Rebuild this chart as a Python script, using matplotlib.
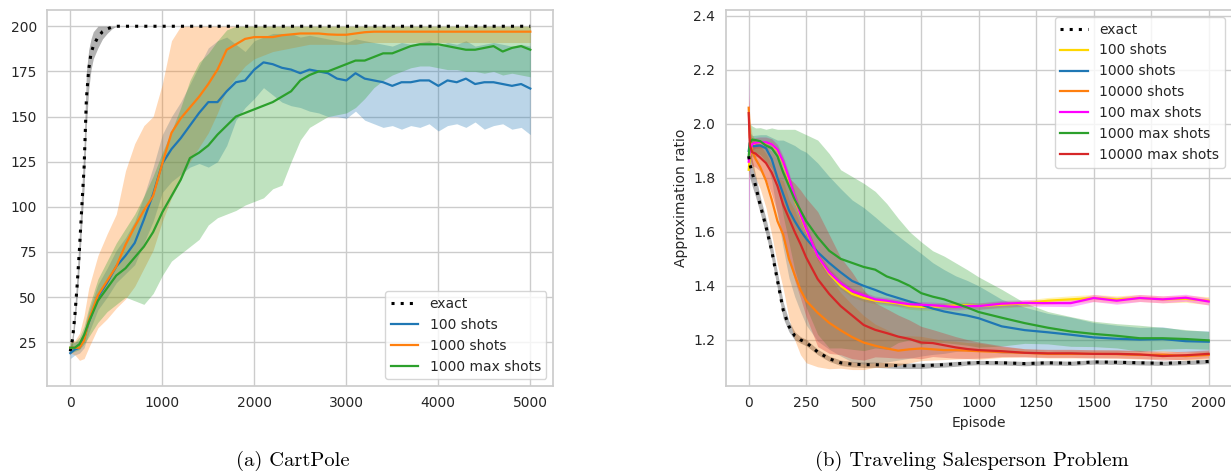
import numpy as np
import matplotlib
matplotlib.use("Agg")
import matplotlib.pyplot as plt

# ---- CartPole data ----
cp_exact_ep = [0, 25, 50, 75, 100, 125, 150, 175, 200, 225, 250, 300, 350, 400, 450, 500, 5000]
cp_exact = [20, 27, 40, 57, 77, 100, 122, 160, 176, 185, 189, 194, 197, 198.5, 199.5, 200, 200]
cp_exact_lo = [18, 24, 35, 50, 68, 90, 110, 145, 165, 176, 182, 188, 193, 196, 198.5, 200, 200]
cp_exact_hi = [22, 30, 45, 64, 86, 110, 135, 175, 187, 193, 197, 200, 200, 200, 200, 200, 200]

cp_ep = [0, 50, 100, 150, 200] + list(range(300, 5001, 100))

cp_100 = [19, 21, 22, 27, 36, 50, 58, 67, 73, 80, 93, 107, 124, 132, 138, 145, 152, 158, 158, 164,
          169, 170, 176, 180, 179, 177, 176, 174, 176, 175, 174, 171, 170, 174, 171, 170, 169, 167,
          169, 169, 170, 170, 167, 170, 169, 171, 168, 169, 169, 168, 167, 168, 165.5]
cp_100_lo = [16, 18, 19, 22, 30, 43, 50, 58, 63, 68, 80, 92, 108, 114, 118, 122, 124, 122, 125, 134,
             148, 155, 160, 166, 162, 158, 156, 155, 153, 152, 150, 150, 149, 153, 148, 146, 144, 145,
             143, 145, 144, 146, 142, 145, 146, 144, 147, 143, 145, 146, 143, 144, 140]
cp_100_hi = [24, 25, 26, 32, 42, 57, 66, 76, 83, 92, 106, 122, 140, 150, 158, 168, 178, 188, 192, 194,
             190, 186, 192, 194, 196, 196, 196, 194, 195, 194, 193, 192, 191, 193, 192, 191, 190, 189,
             191, 190, 191, 192, 189, 191, 190, 192, 189, 190, 191, 190, 189, 190, 189]

cp_1000 = [22, 22, 22, 26, 37, 51, 59, 67, 79, 89, 98, 106, 124, 141, 149, 155, 161, 168, 176, 187,
           190, 193, 194, 194, 194, 195, 195.5, 196, 196, 196, 195.5, 195.3, 195.3, 196, 196.7, 197,
           197, 197, 197, 197, 197, 197, 197, 197, 197, 197, 197, 197, 197, 197, 197, 197, 197]
cp_1000_lo = [19, 18, 15, 16, 22, 33, 38, 44, 49, 56, 66, 76, 92, 105, 115, 125, 133, 141, 152, 165,
              172, 178, 182, 184, 186, 187, 188, 189, 190, 190, 190, 190, 190, 190, 191, 191, 191, 191,
              191, 191, 191, 191, 191, 191, 191, 191, 191, 191, 191, 191, 191, 191, 191]
cp_1000_hi = [26, 26, 30, 40, 55, 73, 85, 96, 120, 135, 145, 150, 168, 192, 200, 200, 200, 200, 200, 200,
              200, 200, 200, 200, 200, 200, 200, 200, 200, 200, 200, 200, 200, 200, 200, 200, 200, 200,
              200, 200, 200, 200, 200, 200, 200, 200, 200, 200, 200, 200, 200, 200, 200]

cp_1000max = [22, 22, 24, 29, 36, 48, 55, 62, 66, 72, 78, 86, 97, 106, 115, 127, 130, 134, 140, 145,
              150, 152, 154, 156, 158, 161, 164, 170, 173, 175, 175, 177, 179, 181, 181, 183, 185, 185,
              187, 189, 190, 190, 190, 189, 188, 187, 187, 188, 189, 186, 188, 189, 187]
cp_1000max_lo = [19, 20, 21, 24, 28, 36, 42, 46, 50, 48, 46, 52, 62, 70, 74, 78, 82, 90, 94, 96,
                 98, 101, 103, 105, 110, 112, 125, 137, 144, 147, 150, 151, 152, 155, 160, 166, 170, 173,
                 175, 177, 178, 178, 177, 176, 176, 175, 175, 174, 175, 173, 174, 173, 172]
cp_1000max_hi = [25, 25, 28, 34, 44, 60, 70, 80, 88, 96, 106, 117, 130, 142, 155, 170, 180, 185, 192, 198,
                 200, 200, 200, 200, 200, 200, 200, 200, 200, 200, 200, 200, 200, 200, 200, 200, 200, 200,
                 200, 200, 200, 200, 200, 200, 200, 200, 200, 200, 200, 200, 200, 200, 200]

# ---- TSP data (mean and half-width of band) ----
tsp_ep = [0, 5, 15, 30, 50, 75, 100, 125, 150, 175, 200, 225, 250, 300, 350, 400, 450, 500, 550, 600,
          650, 700, 750, 800, 850, 900, 950, 1000, 1100, 1200, 1300, 1400, 1500, 1600, 1700, 1800, 1900, 2000]

tsp_exact = [1.88, 1.85, 1.82, 1.77, 1.70, 1.62, 1.53, 1.42, 1.31, 1.25, 1.215, 1.20, 1.19, 1.155, 1.13,
             1.115, 1.11, 1.108, 1.108, 1.106, 1.104, 1.104, 1.104, 1.106, 1.108, 1.111, 1.114, 1.116,
             1.115, 1.112, 1.115, 1.113, 1.118, 1.117, 1.115, 1.113, 1.116, 1.12]
tsp_exact_sd = [0.04, 0.05, 0.05, 0.04, 0.03, 0.03, 0.03, 0.03, 0.03, 0.02, 0.015, 0.012, 0.012, 0.01,
                0.01, 0.01, 0.01, 0.01, 0.01, 0.01, 0.01, 0.01, 0.01, 0.009, 0.009, 0.009, 0.008, 0.008,
                0.008, 0.008, 0.008, 0.008, 0.008, 0.008, 0.008, 0.008, 0.008, 0.008]

tsp_100 = [1.83, 1.88, 1.92, 1.93, 1.93, 1.93, 1.925, 1.90, 1.855, 1.79, 1.72, 1.66, 1.605, 1.51, 1.445,
           1.40, 1.37, 1.355, 1.345, 1.34, 1.335, 1.325, 1.322, 1.322, 1.325, 1.328, 1.328, 1.325, 1.33,
           1.335, 1.345, 1.35, 1.355, 1.35, 1.355, 1.35, 1.352, 1.345]
tsp_100_sd = [0.05, 0.03, 0.02, 0.02, 0.02, 0.02, 0.02, 0.02, 0.02, 0.02, 0.02, 0.02, 0.02, 0.015, 0.015,
              0.012, 0.012, 0.012, 0.012, 0.012, 0.012, 0.012, 0.012, 0.012, 0.012, 0.012, 0.012, 0.012,
              0.012, 0.012, 0.012, 0.013, 0.013, 0.013, 0.013, 0.013, 0.013, 0.015]

tsp_1000 = [1.90, 1.93, 1.917, 1.918, 1.92, 1.91, 1.87, 1.80, 1.74, 1.68, 1.64, 1.605, 1.575, 1.525, 1.485,
            1.45, 1.418, 1.40, 1.385, 1.368, 1.355, 1.342, 1.33, 1.316, 1.305, 1.297, 1.29, 1.28, 1.25,
            1.236, 1.228, 1.219, 1.209, 1.204, 1.201, 1.203, 1.195, 1.193]
tsp_1000_sd = [0.04, 0.04, 0.04, 0.04, 0.04, 0.05, 0.08, 0.14, 0.2, 0.25, 0.28, 0.3, 0.32, 0.33, 0.32,
               0.31, 0.30, 0.29, 0.27, 0.25, 0.23, 0.21, 0.19, 0.17, 0.155, 0.14, 0.13, 0.12, 0.1, 0.085,
               0.07, 0.065, 0.055, 0.05, 0.045, 0.045, 0.04, 0.04]

tsp_10000 = [2.06, 1.95, 1.90, 1.87, 1.84, 1.79, 1.72, 1.64, 1.59, 1.50, 1.44, 1.385, 1.345, 1.30, 1.263,
             1.235, 1.21, 1.19, 1.178, 1.168, 1.16, 1.165, 1.168, 1.165, 1.162, 1.162, 1.16, 1.158, 1.155,
             1.152, 1.148, 1.148, 1.148, 1.147, 1.144, 1.145, 1.14, 1.144]
tsp_10000_sd = [0.05, 0.06, 0.06, 0.07, 0.08, 0.1, 0.13, 0.16, 0.2, 0.22, 0.24, 0.24, 0.23, 0.2, 0.17,
                0.14, 0.12, 0.1, 0.08, 0.07, 0.055, 0.05, 0.045, 0.04, 0.035, 0.033, 0.03, 0.03, 0.02,
                0.015, 0.015, 0.015, 0.015, 0.015, 0.015, 0.015, 0.015, 0.015]

tsp_100max = [1.86, 1.90, 1.925, 1.93, 1.932, 1.932, 1.925, 1.905, 1.86, 1.80, 1.73, 1.665, 1.61, 1.51,
              1.45, 1.41, 1.38, 1.365, 1.35, 1.345, 1.338, 1.332, 1.33, 1.328, 1.325, 1.322, 1.325, 1.325,
              1.334, 1.337, 1.336, 1.336, 1.355, 1.345, 1.355, 1.35, 1.356, 1.342]
tsp_100max_sd = [0.32, 0.03, 0.02, 0.02, 0.02, 0.02, 0.02, 0.02, 0.02, 0.02, 0.02, 0.02, 0.02, 0.015,
                 0.015, 0.012, 0.012, 0.012, 0.012, 0.012, 0.012, 0.012, 0.012, 0.012, 0.012, 0.012, 0.012,
                 0.012, 0.012, 0.012, 0.012, 0.013, 0.013, 0.013, 0.013, 0.013, 0.013, 0.013]

tsp_1000max = [1.88, 1.93, 1.942, 1.94, 1.936, 1.92, 1.91, 1.88, 1.82, 1.77, 1.72, 1.68, 1.64, 1.58, 1.53,
               1.50, 1.485, 1.47, 1.46, 1.435, 1.42, 1.40, 1.373, 1.36, 1.35, 1.335, 1.32, 1.303, 1.282,
               1.262, 1.245, 1.231, 1.222, 1.215, 1.206, 1.206, 1.203, 1.198]
tsp_1000max_sd = [0.08, 0.07, 0.05, 0.045, 0.05, 0.06, 0.075, 0.10, 0.16, 0.21, 0.26, 0.29, 0.32, 0.36,
                  0.36, 0.33, 0.32, 0.31, 0.29, 0.27, 0.23, 0.20, 0.19, 0.17, 0.16, 0.15, 0.14, 0.13,
                  0.105, 0.075, 0.06, 0.055, 0.047, 0.045, 0.048, 0.04, 0.035, 0.033]

tsp_10000max = [2.04, 1.92, 1.895, 1.89, 1.875, 1.855, 1.82, 1.77, 1.70, 1.65, 1.60, 1.555, 1.505, 1.425,
                1.37, 1.325, 1.29, 1.255, 1.237, 1.225, 1.212, 1.203, 1.19, 1.188, 1.18, 1.172, 1.166,
                1.162, 1.158, 1.152, 1.15, 1.15, 1.148, 1.148, 1.146, 1.14, 1.143, 1.148]
tsp_10000max_sd = [0.05, 0.05, 0.05, 0.05, 0.05, 0.06, 0.08, 0.1, 0.13, 0.15, 0.18, 0.2, 0.22, 0.25,
                   0.22, 0.18, 0.16, 0.13, 0.1, 0.09, 0.08, 0.07, 0.06, 0.05, 0.045, 0.04, 0.035, 0.03,
                   0.02, 0.015, 0.015, 0.015, 0.015, 0.015, 0.015, 0.015, 0.015, 0.015]

plt.rcParams.update({
    "font.family": "DejaVu Sans",
    "font.size": 10,
    "text.color": ".15",
    "axes.labelcolor": ".15",
    "xtick.color": ".15",
    "ytick.color": ".15",
    "axes.edgecolor": ".8",
    "axes.linewidth": 1.25,
    "grid.color": ".8",
    "grid.linewidth": 1.0,
    "lines.linewidth": 1.6,
    "legend.fontsize": 10,
    "legend.edgecolor": ".8",
})

dotted = (0, (1, 2))

fig = plt.figure(figsize=(12.31, 4.73), dpi=100)
ax1 = fig.add_axes([47.3 / 1231, 87 / 473, 506 / 1231, 376 / 473])
ax2 = fig.add_axes([725.7 / 1231, 87 / 473, 506 / 1231, 376 / 473])

for ax in (ax1, ax2):
    ax.grid(True)
    ax.set_axisbelow(True)
    ax.tick_params(length=0, pad=7.5)

# CartPole
ax1.fill_between(cp_exact_ep, cp_exact_lo, cp_exact_hi, color="black", alpha=0.3, lw=0)
ax1.plot(cp_exact_ep, cp_exact, color="black", ls=dotted, lw=2.2, label="exact")
cp_series = [(cp_100, cp_100_lo, cp_100_hi, "#1f77b4", "100 shots"),
             (cp_1000, cp_1000_lo, cp_1000_hi, "#ff7f0e", "1000 shots"),
             (cp_1000max, cp_1000max_lo, cp_1000max_hi, "#2ca02c", "1000 max shots")]
for m, lo, hi, c, lab in cp_series:
    ax1.fill_between(cp_ep, lo, hi, color=c, alpha=0.3, lw=0)
    ax1.plot(cp_ep, m, color=c, label=lab)
ax1.set_xlim(-250, 5250)
ax1.set_ylim(0.8, 209)
ax1.set_xticks([0, 1000, 2000, 3000, 4000, 5000])
ax1.set_yticks([25, 50, 75, 100, 125, 150, 175, 200])
ax1.legend(loc="lower right")

# TSP
tsp_series = [(tsp_exact, tsp_exact_sd, "black", "exact"),
              (tsp_100, tsp_100_sd, "#ffd700", "100 shots"),
              (tsp_1000, tsp_1000_sd, "#1f77b4", "1000 shots"),
              (tsp_10000, tsp_10000_sd, "#ff7f0e", "10000 shots"),
              (tsp_100max, tsp_100max_sd, "#ff00ff", "100 max shots"),
              (tsp_1000max, tsp_1000max_sd, "#2ca02c", "1000 max shots"),
              (tsp_10000max, tsp_10000max_sd, "#d62728", "10000 max shots")]
ep = np.array(tsp_ep)
for m, sd, c, lab in tsp_series:
    m = np.array(m)
    sd = np.array(sd)
    ax2.fill_between(ep, m - sd, m + sd, color=c, alpha=0.3, lw=0)
for m, sd, c, lab in tsp_series:
    if lab == "exact":
        continue
    ax2.plot(ep, m, color=c, label=lab)
ax2.plot(ep, tsp_exact, color="black", ls=dotted, lw=2.2, label="exact", zorder=3)
h, l = ax2.get_legend_handles_labels()
order = [l.index("exact")] + [i for i in range(len(l)) if l[i] != "exact"]
ax2.legend([h[i] for i in order], [l[i] for i in order], loc="upper right")
ax2.set_xlim(-100, 2100)
ax2.set_ylim(1.029, 2.422)
ax2.set_xticks([0, 250, 500, 750, 1000, 1250, 1500, 1750, 2000])
ax2.set_yticks([1.2, 1.4, 1.6, 1.8, 2.0, 2.2, 2.4])
ax2.set_xlabel("Episode")
ax2.set_ylabel("Approximation ratio")

fig.text(293 / 1231, 1 - 466 / 473, "(a) CartPole", family="cmr10", fontsize=14.8,
         ha="center", va="baseline", color="black")
fig.text(972 / 1231, 1 - 466 / 473, "(b) Traveling Salesperson Problem", family="cmr10",
         fontsize=14.8, ha="center", va="baseline", color="black")

fig.savefig("out.png", dpi=100)
